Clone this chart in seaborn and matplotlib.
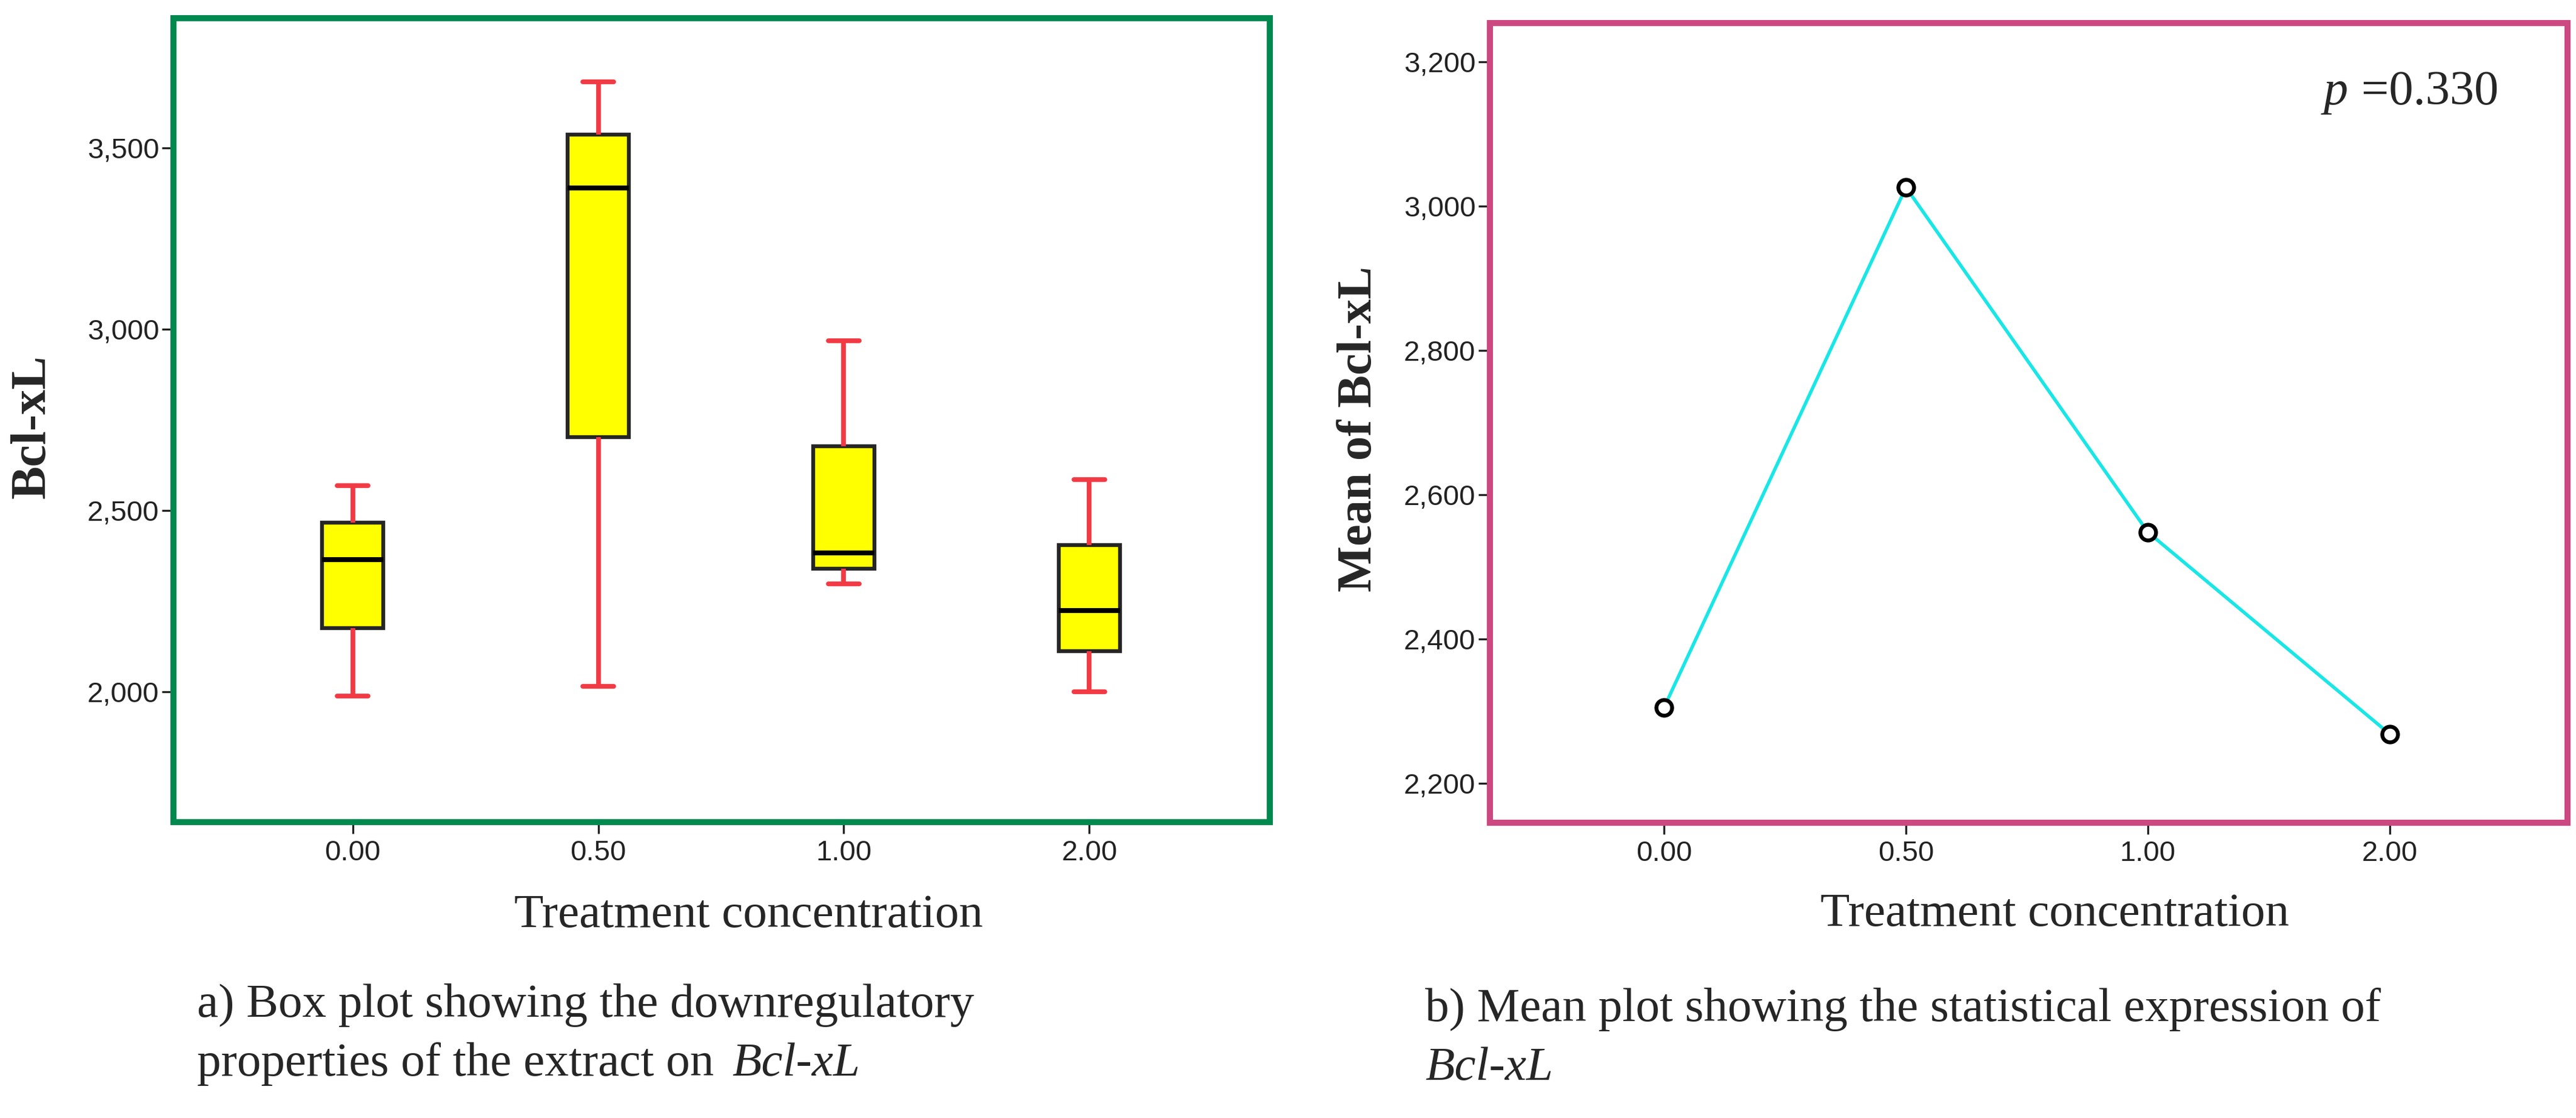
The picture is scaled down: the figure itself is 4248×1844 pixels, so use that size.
import numpy as np
import pandas as pd
import matplotlib
matplotlib.use("Agg")
import matplotlib.pyplot as plt
import seaborn as sns
from matplotlib.ticker import FuncFormatter, FixedLocator

# ---------------- data ----------------
categories = ["0.00", "0.50", "1.00", "2.00"]
box_min = [1988, 2015, 2298, 2000]
box_q1 = [2175, 2702, 2340, 2111]
box_median = [2365, 3389, 2382, 2223]
box_q3 = [2467, 3537, 2677, 2404]
box_max = [2569, 3683, 2968, 2585]
means = [2305, 3026, 2548, 2268]
left_yticks = [2000, 2500, 3000, 3500]
right_yticks = [2200, 2400, 2600, 2800, 3000, 3200]
p_value_text = "=0.330"

rows = []
for i, c in enumerate(categories):
    for v in (box_min[i], box_q1[i], box_median[i], box_q3[i], box_max[i]):
        rows.append({"Treatment concentration": c, "Bcl-xL": v})
box_df = pd.DataFrame(rows)
mean_df = pd.DataFrame({"Treatment concentration": categories, "Mean of Bcl-xL": means})

# ---------------- style ----------------
sns.set_style("white")
plt.rcParams["font.family"] = ["Liberation Sans Narrow", "Liberation Sans", "DejaVu Sans"]
SERIF = ["Liberation Serif", "DejaVu Serif"]

W, H, DPI = 4248, 1844, 200
fig = plt.figure(figsize=(W / DPI, H / DPI), dpi=DPI)
fig.patch.set_facecolor("white")
ax1 = fig.add_axes([286 / W, 1 - 1356 / H, (2094 - 286) / W, (1356 - 30) / H])
ax2 = fig.add_axes([2457 / W, 1 - 1357 / H, (4234 - 2457) / W, (1357 - 38) / H])

RED = "#F23A44"
sns.boxplot(data=box_df, x="Treatment concentration", y="Bcl-xL", order=categories, ax=ax1,
            width=0.25, whis=(0, 100), color="#FFFF00", saturation=1,
            linecolor="#262626", linewidth=2.3, showfliers=False,
            whiskerprops=dict(color=RED, linewidth=2.8),
            capprops=dict(color=RED, linewidth=2.8),
            medianprops=dict(color="black", linewidth=2.9))

sns.pointplot(data=mean_df, x="Treatment concentration", y="Mean of Bcl-xL", order=categories,
              ax=ax2, color="#1AE6E6", markers="o", linestyles="-", errorbar=None)
for ln in ax2.lines:
    ln.set_linewidth(2.0)
    ln.set_markersize(9.3)
    ln.set_markerfacecolor("white")
    ln.set_markeredgecolor("black")
    ln.set_markeredgewidth(2.3)
    ln.set_zorder(5)

fmt = FuncFormatter(lambda v, p: f"{v:,.0f}")
for ax, scol, yt in ((ax1, "#00894F", left_yticks), (ax2, "#CC4880", right_yticks)):
    ax.set_facecolor("white")
    ax.grid(False)
    for s in ax.spines.values():
        s.set_visible(True)
        s.set_color(scol)
        s.set_linewidth(3.6)
    ax.set_xlabel("")
    ax.set_ylabel("")
    ax.yaxis.set_major_locator(FixedLocator(yt))
    ax.yaxis.set_major_formatter(fmt)
    ax.tick_params(axis="both", which="major", direction="out", length=7, width=1.2,
                   color="#222222", labelsize=17, labelcolor="#222222",
                   top=False, right=False, left=True, bottom=True)
    ax.tick_params(axis="y", pad=1.5)
    ax.tick_params(axis="x", pad=3.5)

ax1.set_xlim(-0.73, 3.735)
ax1.set_ylim(1640, 3858)
ax2.set_xlim(-0.72, 3.735)
ax2.set_ylim(2145, 3254)

# ---------------- texts ----------------
fs = 28.5
fig.text(54 / W, 1 - 704 / H, "Bcl-xL", rotation=90, ha="center", va="center",
         fontsize=29.5, fontweight="bold", family=SERIF)
fig.text(2242 / W, 1 - 708 / H, "Mean of Bcl-xL", rotation=90, ha="center", va="center",
         fontsize=29, fontweight="bold", family=SERIF)
fig.text(1235 / W, 1 - 1529 / H, "Treatment concentration", ha="center", va="baseline",
         fontsize=fs, family=SERIF)
fig.text(3388 / W, 1 - 1527 / H, "Treatment concentration", ha="center", va="baseline",
         fontsize=fs, family=SERIF)

fig.text(325 / W, 1 - 1677 / H, "a) Box plot showing the downregulatory", ha="left",
         va="baseline", fontsize=fs, family=SERIF)
t_a2 = fig.text(325 / W, 1 - 1774 / H, "properties of the extract on", ha="left",
                va="baseline", fontsize=fs, family=SERIF)
fig.text(2350 / W, 1 - 1684 / H, "b) Mean plot showing the statistical expression of",
         ha="left", va="baseline", fontsize=fs, family=SERIF)
fig.text(2350 / W, 1 - 1781 / H, "Bcl-xL", ha="left", va="baseline", fontsize=fs,
         style="italic", family=SERIF)
t_p = fig.text(3832 / W, 1 - 172 / H, "p", ha="left", va="baseline", fontsize=29,
               style="italic", family=SERIF)

fig.canvas.draw()
r = fig.canvas.get_renderer()
bb = t_a2.get_window_extent(r)
fig.text((bb.x1 + 30) / fig.bbox.width, 1 - 1774 / H, "Bcl-xL", ha="left", va="baseline",
         fontsize=fs, style="italic", family=SERIF)
bb = t_p.get_window_extent(r)
fig.text((bb.x1 + 22) / fig.bbox.width, 1 - 172 / H, p_value_text, ha="left", va="baseline",
         fontsize=29, family=SERIF)

fig.savefig("out.png", dpi=DPI, facecolor="white")
